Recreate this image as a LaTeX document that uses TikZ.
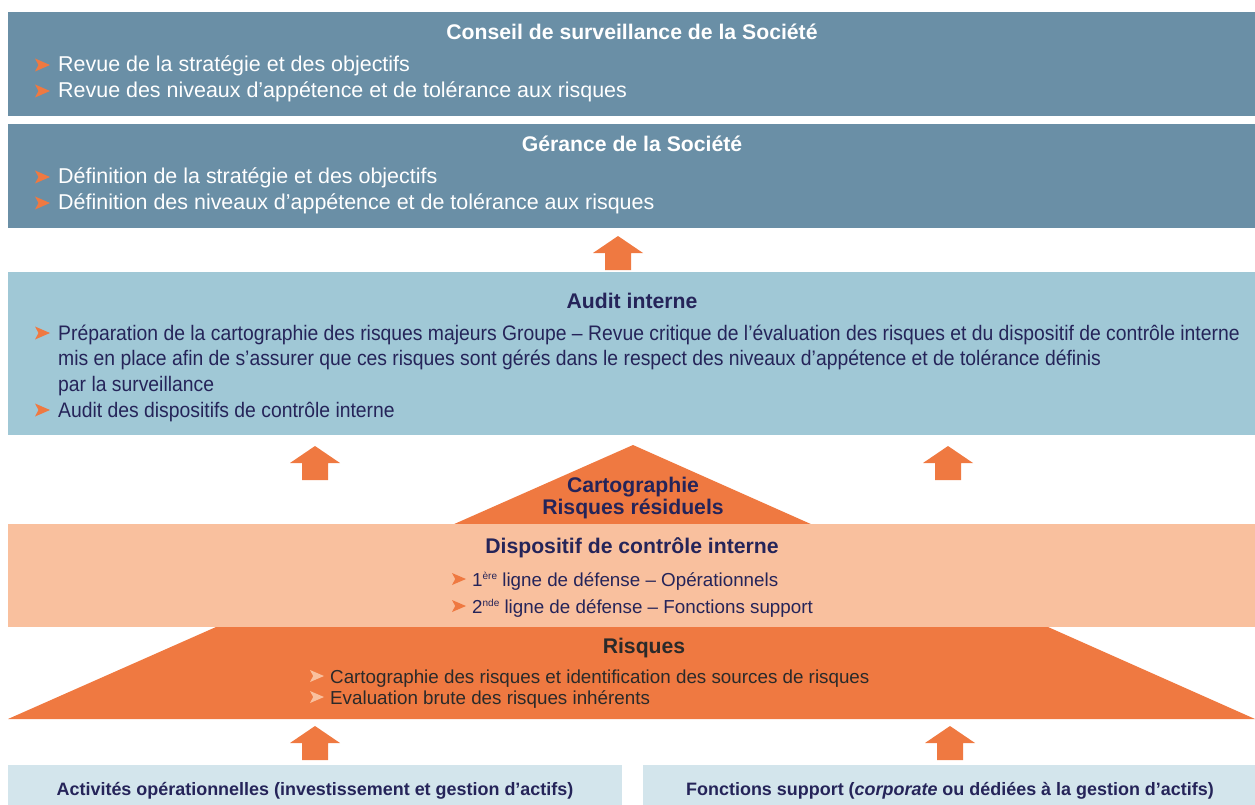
\documentclass[tikz,border=0pt]{standalone}
\usepackage{fontspec}
\setmainfont{Liberation Sans}
\newfontfamily\condfont[FakeStretch=0.921]{Liberation Sans}
\definecolor{slate}{HTML}{6A8FA6}
\definecolor{auditc}{HTML}{A0C8D6}
\definecolor{orangec}{HTML}{EF7941}
\definecolor{peach}{HTML}{F9C09E}
\definecolor{paleblue}{HTML}{D3E5EC}
\definecolor{navy}{HTML}{252459}
\definecolor{darktxt}{HTML}{2A2A2A}
\newcommand{\supx}[1]{\raisebox{6.5pt}{\fontsize{10}{10}\selectfont #1}}
\tikzset{
  box/.style={draw=none, inner sep=0, anchor=north west},
  txt/.style={anchor=base west, inner sep=0, font=\fontsize{21.45}{25}\selectfont},
  ctxt/.style={anchor=base west, inner sep=0, font=\condfont\fontsize{21}{25}\selectfont},
  stxt/.style={anchor=base west, inner sep=0, font=\fontsize{18.8}{23}\selectfont},
  ttl/.style={anchor=base, inner sep=0, font=\bfseries\fontsize{21.2}{25}\selectfont},
  btxt/.style={anchor=base, inner sep=0, font=\bfseries\fontsize{17.95}{21}\selectfont},
  bul/.pic={\fill[pic actions] (0,-6.5) -- (15,0) -- (0,6.5) -- (3.5,0) -- cycle;},
  sbul/.pic={\fill[pic actions] (0,-6) -- (14,0) -- (0,6) -- (3.2,0) -- cycle;},
  uparr/.pic={\fill[orangec] (0,0) -- (25,17) -- (13,17) -- (13,34) -- (-13,34) -- (-13,17) -- (-25,17) -- cycle;}
}
\begin{document}
\begin{tikzpicture}[x=1pt,y=-1pt]
\useasboundingbox (0,0) rectangle (1255,805);
% boxes
\node[box, fill=slate, minimum width=1247pt, minimum height=104pt] (conseil) at (8,12) {};
\node[box, fill=slate, minimum width=1247pt, minimum height=104pt] (gerance) at (8,124) {};
\node[box, fill=auditc, minimum width=1247pt, minimum height=163pt] (audit) at (8,272) {};
\fill[orangec] (452,525) -- (633,445) -- (813,525) -- cycle;
\node[box, fill=peach, minimum width=1247pt, minimum height=103pt] (dispo) at (8,524) {};
\fill[orangec] (216,627) -- (1048,627) -- (1255,719) -- (8,719) -- cycle;
\node[box, fill=paleblue, minimum width=614pt, minimum height=40pt] (activ) at (8,765) {};
\node[box, fill=paleblue, minimum width=612pt, minimum height=40pt] (fonct) at (643,765) {};
% arrows
\pic at (618,236) {uparr};
\pic at (315,446) {uparr};
\pic at (948,446) {uparr};
\pic at (315,726) {uparr};
\pic at (950,726) {uparr};
% Conseil
\node[ttl, white] (t1) at (632,40) {Conseil de surveillance de la Société};
\pic[orangec] at (35,65) {bul};
\node[txt, white] (c1) at (58,72) {Revue de la stratégie et des objectifs};
\pic[orangec] at (35,91) {bul};
\node[txt, white] (c2) at (58,98) {Revue des niveaux d’appétence et de tolérance aux risques};
% Gerance
\node[ttl, white] (t2) at (632,152) {Gérance de la Société};
\pic[orangec] at (35,177) {bul};
\node[txt, white] (g1) at (58,184) {Définition de la stratégie et des objectifs};
\pic[orangec] at (35,203) {bul};
\node[txt, white] (g2) at (58,210) {Définition des niveaux d’appétence et de tolérance aux risques};
% Audit
\node[ttl, navy] (t3) at (632,308) {Audit interne};
\pic[orangec] at (35,333) {bul};
\node[ctxt, navy] (a1) at (58,340) {Préparation de la cartographie des risques majeurs Groupe – Revue critique de l’évaluation des risques et du dispositif de contrôle interne};
\node[ctxt, navy] (a2) at (58,365) {mis en place afin de s’assurer que ces risques sont gérés dans le respect des niveaux d’appétence et de tolérance définis};
\node[ctxt, navy] (a3) at (58,391) {par la surveillance};
\pic[orangec] at (35,410) {bul};
\node[ctxt, navy] (a4) at (58,417) {Audit des dispositifs de contrôle interne};
% Cartographie triangle
\node[ttl, navy] (k1) at (633,492) {Cartographie};
\node[ttl, navy] (k2) at (633,514) {Risques résiduels};
% Dispositif
\node[ttl, navy] (t4) at (632,553) {Dispositif de contrôle interne};
\pic[orangec] at (452,579) {sbul};
\node[stxt, navy] (d1) at (472,586) {1\supx{ère} ligne de défense – Opérationnels};
\pic[orangec] at (452,606) {sbul};
\node[stxt, navy] (d2) at (472,613) {2\supx{nde} ligne de défense – Fonctions support};
% Risques
\node[ttl, darktxt] (t5) at (644,653) {Risques};
\pic[peach] at (310,676) {sbul};
\node[stxt, darktxt] (r1) at (330,683) {Cartographie des risques et identification des sources de risques};
\pic[peach] at (310,697) {sbul};
\node[stxt, darktxt] (r2) at (330,704) {Evaluation brute des risques inhérents};
% bottom
\node[btxt, navy] (bt1) at (315,795) {Activités opérationnelles (investissement et gestion d’actifs)};
\node[btxt, navy] (bt2) at (950,795) {Fonctions support (\textit{corporate} ou dédiées à la gestion d’actifs)};
\end{tikzpicture}
\end{document}
